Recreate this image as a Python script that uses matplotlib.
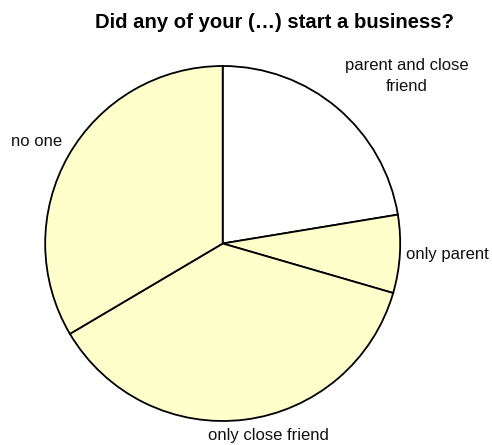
import matplotlib
matplotlib.use("Agg")
import matplotlib.pyplot as plt

plt.rcParams['font.family'] = ['Liberation Sans', 'DejaVu Sans']

categories = ["parent and close\nfriend", "only parent", "only close friend", "no one"]
shares = [22.4, 7.1, 37.0, 33.5]
colors = ["#FFFFFF", "#FFFFCC", "#FFFFCC", "#FFFFCC"]
title = "Did any of your (\u2026) start a business?"

W, H = 492, 445
fig = plt.figure(figsize=(W / 100, H / 100), dpi=100)
ax = fig.add_axes([0, 0, 1, 1])

# pie drawn clockwise from 12 o'clock
cx, cy, r = 222.7, H - 243.5, 177.5
ax.pie(shares, colors=colors, startangle=90, counterclock=False,
       center=(cx, cy), radius=r, frame=True,
       wedgeprops=dict(edgecolor="black", linewidth=1.3))
ax.set_xlim(0, W)
ax.set_ylim(0, H)
ax.set_aspect("equal")
ax.axis("off")

ax.text(274, H - 22, title, ha="center", va="center", fontsize=14.6,
        fontweight="bold")

label_pos = [
    (407, H - 76, "center", "center"),
    (406, H - 254, "left", "center"),
    (268, H - 428, "center", "top"),
    (62, H - 142, "right", "center"),
]
for (x, y, ha, va), lab in zip(label_pos, categories):
    ax.text(x, y, lab, ha=ha, va=va, fontsize=12, linespacing=1.55,
            color="#111111")

fig.savefig("out.png", dpi=100)
